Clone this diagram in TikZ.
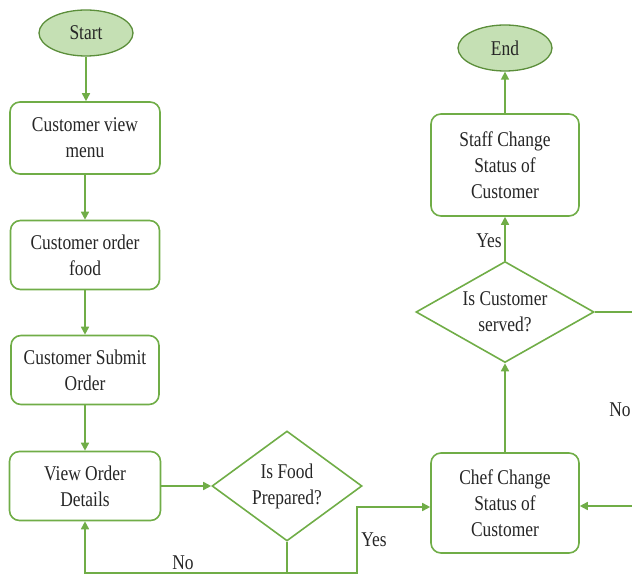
\documentclass[tikz,border=0pt]{standalone}
\usepackage{fontspec}
\setmainfont{Liberation Serif}[FakeStretch=0.83]
\usetikzlibrary{shapes.geometric,arrows.meta}
\definecolor{lg}{HTML}{70AD47}
\definecolor{lf}{HTML}{C5E0B4}
\definecolor{ld}{HTML}{5B8E3A}
\begin{document}
\begin{tikzpicture}[x=1pt,y=-1pt,
 every node/.style={font=\fontsize{21}{26}\selectfont, text=black!85, align=center},
 proc/.style={draw=lg, line width=1.6pt, rounded corners=10pt, fill=white, inner sep=0pt},
 term/.style={ellipse, draw=ld, fill=lf, line width=1.3pt, minimum width=94pt, minimum height=46pt, inner sep=0pt},
 dec/.style={diamond, draw=lg, line width=1.6pt, inner sep=0pt},
 conn/.style={draw=lg, line width=1.6pt, -{Triangle[length=8pt,width=8pt]}},
 plain/.style={draw=lg, line width=1.6pt}]
\useasboundingbox (0,0) rectangle (632,577);
\node[term] (start) at (86,33) {Start};
\node[proc, minimum width=150pt, minimum height=72pt] (b1) at (85,138) {Customer view\\menu};
\node[proc, minimum width=149pt, minimum height=69pt] (b2) at (85,255) {Customer order\\food};
\node[proc, minimum width=148pt, minimum height=69pt] (b3) at (85,370) {Customer Submit\\Order};
\node[proc, minimum width=151pt, minimum height=69pt] (b4) at (85,486) {View Order\\Details};
\node[dec, aspect=1.36, minimum width=150pt, minimum height=110pt] (d1) at (287,486) {Is Food\\Prepared?};
\node[proc, minimum width=148pt, minimum height=100pt] (chef) at (505,503) {Chef Change\\Status of\\Customer};
\node[dec, aspect=1.76, minimum width=178pt, minimum height=101pt] (d2) at (505,312) {Is Customer\\served?};
\node[proc, minimum width=148pt, minimum height=102pt] (staff) at (505,165) {Staff Change\\Status of\\Customer};
\node[term] (end) at (505,48) {End};
\coordinate (bot) at (0,573);
\coordinate (yx) at (357,0);
\coordinate (r1) at (632,311);
\coordinate (r2) at (632,506);
\draw[conn] (start.south) -- (start.south |- b1.north);
\draw[conn] (b1) -- (b2);
\draw[conn] (b2) -- (b3);
\draw[conn] (b3) -- (b4);
\draw[conn] (b4.east) -- (d1.west);
\draw[conn] (d1.south) -- (d1.south |- bot) -| (b4.south);
\draw[conn] (d1.south |- bot) -- (yx |- bot) |- ([yshift=-4pt]chef.west);
\draw[conn] (chef.north) -- (d2.south);
\draw[conn] (d2.north) -- (staff.south);
\draw[conn] (staff.north) -- (end.south);
\draw[plain] (d2.east) -- (d2.east -| r1);
\draw[conn] (r2) -- (r2 -| chef.east);
\node (no1) at (183,563) {No};
\node (yes1) at (374,540) {Yes};
\node (yes2) at (489,241) {Yes};
\node (no2) at (620,410) {No};
\end{tikzpicture}
\end{document}
